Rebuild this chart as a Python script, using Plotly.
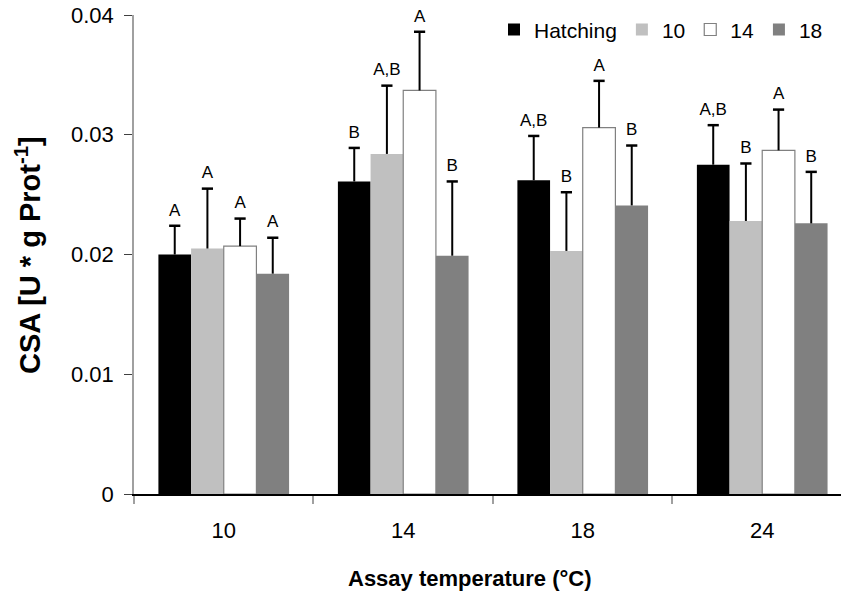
import plotly.graph_objects as go

categories = ["10", "14", "18", "24"]
series_names = ["Hatching", "10", "14", "18"]

hatching = [0.0200, 0.0261, 0.0262, 0.0275]
s10 = [0.0205, 0.0284, 0.0203, 0.0228]
s14 = [0.0207, 0.0337, 0.0306, 0.0287]
s18 = [0.0184, 0.0199, 0.0241, 0.0226]

hatching_err_top = [0.0224, 0.0289, 0.0299, 0.0308]
s10_err_top = [0.0255, 0.0341, 0.0252, 0.0276]
s14_err_top = [0.0230, 0.0386, 0.0345, 0.0321]
s18_err_top = [0.0214, 0.0261, 0.0291, 0.0269]

hatching_letters = ["A", "B", "A,B", "A,B"]
s10_letters = ["A", "A,B", "B", "B"]
s14_letters = ["A", "A", "A", "A"]
s18_letters = ["A", "B", "B", "B"]

values = [hatching, s10, s14, s18]
err_tops = [hatching_err_top, s10_err_top, s14_err_top, s18_err_top]
letters = [hatching_letters, s10_letters, s14_letters, s18_letters]
colors = ["#000000", "#c0c0c0", "#ffffff", "#808080"]
outline = ["#000000", "#c0c0c0", "#808080", "#808080"]
outline_w = [0, 0, 1.2, 0]

n = len(series_names)
bargap = 0.272
w = (1 - bargap) / n

fig = go.Figure()
for j in range(n):
    xs = [i + (j - (n - 1) / 2) * w for i in range(len(categories))]
    fig.add_trace(go.Bar(
        x=xs, y=values[j], width=w, name=series_names[j],
        marker=dict(color=colors[j], line=dict(color=outline[j], width=outline_w[j])),
        error_y=dict(type="data", symmetric=False,
                     array=[t - v for t, v in zip(err_tops[j], values[j])],
                     arrayminus=[0] * len(categories),
                     color="#000000", thickness=2, width=0),
    ))
for j in range(n):
    xs = [i + (j - (n - 1) / 2) * w for i in range(len(categories))]
    fig.add_trace(go.Scatter(
        x=xs, y=err_tops[j], mode="markers+text", showlegend=False,
        marker=dict(symbol="line-ew", size=8, line=dict(color="#000000", width=2.5)),
        text=letters[j], textposition="top center", cliponaxis=False,
        textfont=dict(family="Liberation Sans, Arial", size=17, color="#000000"),
        hoverinfo="skip",
    ))

fig.update_layout(
    width=841, height=601,
    margin=dict(l=134, r=0, t=15, b=107),
    plot_bgcolor="#ffffff", paper_bgcolor="#ffffff",
    barmode="overlay",
    font=dict(family="Liberation Sans, Arial", color="#000000"),
    showlegend=True,
    legend=dict(orientation="h", x=(494 - 134) / 707, xanchor="left", y=0.969, yanchor="middle",
                font=dict(size=21), itemwidth=30, traceorder="normal",
                bgcolor="rgba(0,0,0,0)"),
    xaxis=dict(range=[-0.5, 3.5 - 11 / 180], tickvals=list(range(len(categories))),
               ticktext=categories, ticks="", showgrid=False, zeroline=False,
               showline=True, linecolor="#000000", linewidth=1.5,
               tickfont=dict(size=22), ticklabelstandoff=16,
               minor=dict(tick0=-0.5, dtick=1, ticks="outside", ticklen=8,
                          tickcolor="#a0a0a0", tickwidth=1.5, showgrid=False)),
    yaxis=dict(range=[0, 0.04], tickvals=[0, 0.01, 0.02, 0.03, 0.04],
               ticktext=["0", "0.01", "0.02", "0.03", "0.04"],
               ticks="outside", ticklen=8, tickcolor="#404040", tickwidth=1,
               showgrid=False, zeroline=False, showline=True, linecolor="#a0a0a0",
               linewidth=1.5, tickfont=dict(size=22), ticklabelstandoff=6),
    annotations=[
        dict(text="<b>Assay temperature (°C)</b>", xref="paper", yref="paper",
             x=(470 - 134) / 707, y=-(578 - 494) / 479, xanchor="center", yanchor="middle",
             showarrow=False, font=dict(size=22)),
        dict(text="<b>CSA [U * g Prot<sup>-1</sup>]</b>", xref="paper", yref="paper",
             x=(28 - 134) / 707, y=(494 - 255) / 479, xanchor="center", yanchor="middle",
             textangle=-90, showarrow=False, font=dict(size=29)),
    ],
)

fig.write_html("out.html", config={"displayModeBar": False},
               post_script="document.body.style.margin='0';document.body.style.overflow='hidden';")
